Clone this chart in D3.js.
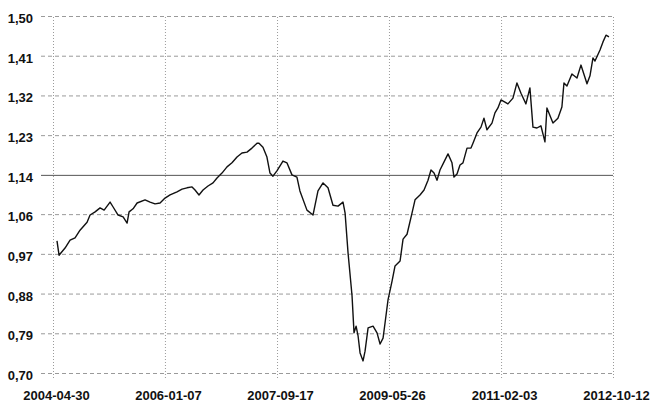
<!DOCTYPE html>
<html>
<head>
<meta charset="utf-8">
<script src="https://cdn.jsdelivr.net/npm/d3@7"></script>
<style>
  body { margin: 0; background: #fff; }
  svg text { font-family: "Liberation Sans", Arial, sans-serif; font-weight: bold; font-size: 13px; fill: #111; }
</style>
</head>
<body>
<div id="chart"></div>
<script>
// Series: decimal year and index value.
const years = [
  2004.388, 2004.419, 2004.509, 2004.585, 2004.660, 2004.735, 2004.841, 2004.886, 2004.962, 2005.037,
  2005.098, 2005.188, 2005.234, 2005.309, 2005.385, 2005.445, 2005.475, 2005.535, 2005.596, 2005.716,
  2005.792, 2005.867, 2005.943, 2006.018, 2006.094, 2006.199, 2006.275, 2006.350, 2006.426, 2006.471,
  2006.531, 2006.592, 2006.667, 2006.743, 2006.803, 2006.878, 2006.954, 2007.029, 2007.105, 2007.180,
  2007.256, 2007.331, 2007.407, 2007.437, 2007.497, 2007.557, 2007.603, 2007.648, 2007.708, 2007.799,
  2007.859, 2007.935, 2008.010, 2008.055, 2008.161, 2008.252, 2008.327, 2008.403, 2008.478, 2008.553,
  2008.629, 2008.704, 2008.735, 2008.780, 2008.840, 2008.870, 2008.901, 2008.931, 2008.961, 2009.006,
  2009.036, 2009.082, 2009.157, 2009.217, 2009.263, 2009.308, 2009.338, 2009.383, 2009.444, 2009.489,
  2009.565, 2009.610, 2009.670, 2009.746, 2009.791, 2009.866, 2009.927, 2009.987, 2010.032, 2010.078,
  2010.123, 2010.168, 2010.229, 2010.289, 2010.349, 2010.379, 2010.425, 2010.470, 2010.515, 2010.576,
  2010.636, 2010.666, 2010.727, 2010.787, 2010.832, 2010.877, 2010.953, 2010.998, 2011.043, 2011.089,
  2011.149, 2011.194, 2011.270, 2011.330, 2011.391, 2011.466, 2011.526, 2011.572, 2011.632, 2011.692,
  2011.753, 2011.783, 2011.874, 2011.949, 2012.009, 2012.040, 2012.085, 2012.160, 2012.236, 2012.296,
  2012.387, 2012.432, 2012.477, 2012.507, 2012.583, 2012.628, 2012.673, 2012.718
];
const values = [
  0.996, 0.964, 0.980, 0.998, 1.003, 1.020, 1.038, 1.054, 1.061, 1.070,
  1.065, 1.083, 1.072, 1.054, 1.050, 1.036, 1.061, 1.068, 1.081, 1.088,
  1.083, 1.079, 1.081, 1.092, 1.099, 1.106, 1.112, 1.115, 1.117, 1.110,
  1.099, 1.110, 1.119, 1.126, 1.137, 1.148, 1.162, 1.171, 1.184, 1.193,
  1.195, 1.204, 1.215, 1.215, 1.206, 1.184, 1.148, 1.141, 1.153, 1.175,
  1.171, 1.144, 1.139, 1.108, 1.065, 1.054, 1.108, 1.126, 1.115, 1.076,
  1.074, 1.083, 1.059, 0.969, 0.873, 0.790, 0.805, 0.783, 0.745, 0.727,
  0.749, 0.801, 0.805, 0.790, 0.765, 0.778, 0.812, 0.864, 0.906, 0.940,
  0.951, 1.000, 1.011, 1.059, 1.088, 1.099, 1.110, 1.132, 1.155, 1.148,
  1.132, 1.155, 1.173, 1.191, 1.171, 1.139, 1.146, 1.166, 1.171, 1.204,
  1.204, 1.215, 1.238, 1.251, 1.271, 1.245, 1.260, 1.283, 1.294, 1.312,
  1.307, 1.303, 1.316, 1.350, 1.327, 1.303, 1.339, 1.251, 1.249, 1.254,
  1.218, 1.294, 1.260, 1.271, 1.296, 1.350, 1.343, 1.370, 1.361, 1.390,
  1.348, 1.366, 1.406, 1.399, 1.424, 1.442, 1.457, 1.453
];

// Axis ticks as printed.
const xTickLabels = ["2004-04-30", "2006-01-07", "2007-09-17", "2009-05-26", "2011-02-03", "2012-10-12"];
const yTicks = [0.70, 0.789, 0.878, 0.967, 1.056, 1.144, 1.233, 1.322, 1.411, 1.50];

// Set the dimensions and margins of the graph.
const margin = { top: 16, right: 37, bottom: 32, left: 53 },
  width = 650 - margin.left - margin.right,
  height = 405 - margin.top - margin.bottom;

const svg = d3.select("#chart")
  .append("svg")
  .attr("width", 650)
  .attr("height", 405)
  .append("g")
  .attr("transform", `translate(${margin.left}, ${margin.top})`);

// Decimal year -> Date.
const toDate = yr => {
  const y0 = Math.floor(yr);
  const a = new Date(y0, 0, 1), b = new Date(y0 + 1, 0, 1);
  return new Date(+a + (yr - y0) * (b - a));
};
const parse = d3.timeParse("%Y-%m-%d");

const data = years.map((yr, i) => ({ date: toDate(yr), value: values[i] }));
const xTicks = xTickLabels.map(parse);

const x = d3.scaleTime()
  .domain([xTicks[0], xTicks[xTicks.length - 1]])
  .range([0, width]);
const y = d3.scaleLinear()
  .domain([0.70, 1.50])
  .range([height, 0]);

// Y axis with horizontal grid.
const yAxis = svg.append("g")
  .call(d3.axisLeft(y)
    .tickValues(yTicks)
    .tickFormat(d => d3.format(".2f")(d).replace(".", ","))
    .tickSizeInner(-width)
    .tickSizeOuter(0)
    .tickPadding(20));
yAxis.select(".domain").remove();
yAxis.selectAll(".tick line")
  .attr("x1", -12)
  .attr("stroke", "#9a9a9a")
  .attr("stroke-dasharray", "4,3");
yAxis.selectAll(".tick text").attr("dy", "0.5em");
// the 1,14 line prints darker on the scan
yAxis.selectAll(".tick").filter(d => d === 1.144).select("line")
  .attr("stroke", "#555").attr("stroke-dasharray", null);

// X axis with vertical grid.
const xAxis = svg.append("g")
  .attr("transform", `translate(0, ${height})`)
  .call(d3.axisBottom(x)
    .tickValues(xTicks)
    .tickFormat(d3.timeFormat("%Y-%m-%d"))
    .tickSizeInner(-height)
    .tickSizeOuter(0)
    .tickPadding(18));
xAxis.select(".domain").remove();
xAxis.selectAll(".tick line")
  .attr("y1", 5)
  .attr("stroke", "#9a9a9a")
  .attr("stroke-dasharray", "1,2");
xAxis.selectAll(".tick text").attr("dx", 3);

// The series line.
const line = d3.line()
  .x(d => x(d.date))
  .y(d => y(d.value));

svg.append("path")
  .datum(data)
  .attr("fill", "none")
  .attr("stroke", "#111")
  .attr("stroke-width", 1.4)
  .attr("stroke-linejoin", "round")
  .attr("d", line);
</script>
</body>
</html>
